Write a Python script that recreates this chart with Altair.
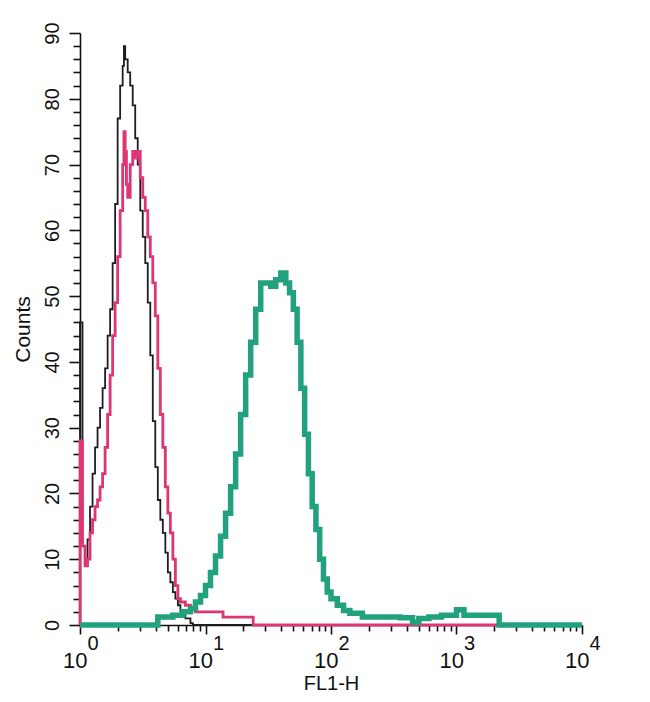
import altair as alt
import pandas as pd

# ---- data (FL1-H channel value, counts) ----
black_x = [1.0, 1.0, 1.047, 1.096, 1.148, 1.202, 1.259, 1.318, 1.380, 1.445, 1.514,
           1.585, 1.660, 1.738, 1.820, 1.905, 1.995, 2.089, 2.188, 2.239, 2.291,
           2.399, 2.512, 2.630, 2.754, 2.884, 3.020, 3.162, 3.311, 3.467, 3.631,
           3.802, 3.981, 4.169, 4.365, 4.571, 4.786, 5.012, 5.248, 5.495, 5.754,
           6.026, 6.310, 6.918, 7.586, 7.943, 10000]
black_y = [0, 46, 12, 10, 13, 18, 23, 27, 30, 33, 36,
           39, 44, 48, 55, 64, 77, 82, 85, 88, 86,
           84, 82, 79, 74, 70, 63, 59, 55, 49, 41,
           31, 24, 19, 16, 14, 11, 8, 6.5, 5, 4,
           3, 2, 1, 0.3, 0, 0]

pink_x = [1.0, 1.0, 1.047, 1.096, 1.148, 1.202, 1.259, 1.318, 1.380, 1.445, 1.514,
          1.585, 1.660, 1.738, 1.820, 1.905, 1.995, 2.089, 2.188, 2.239, 2.291,
          2.344, 2.399, 2.512, 2.630, 2.754, 2.884, 3.020, 3.162, 3.311, 3.467,
          3.631, 3.802, 3.981, 4.169, 4.365, 4.571, 4.786, 5.012, 5.248, 5.495,
          5.754, 6.026, 6.310, 6.918, 7.586, 8.318, 10.0, 13.80, 23.99, 10000]
pink_y = [0, 28, 12, 9, 10, 14, 16, 18, 19, 21, 23,
          27, 32, 38, 44, 49, 56, 63, 70, 75, 72,
          67, 65, 70, 72, 71, 72, 68, 65, 63, 59,
          56, 52, 47, 39, 32, 27, 21, 17, 14, 10,
          6, 4, 3.5, 3, 2.5, 2, 2, 1.2, 0, 0]

teal_x = [1.0, 4.169, 5.495, 6.607, 7.586, 8.318, 9.120, 10.0, 10.96, 12.02,
          13.18, 14.45, 15.85, 17.38, 19.05, 20.89, 22.91, 25.12, 27.54, 30.20,
          33.11, 36.31, 39.81, 43.65, 46.77, 50.12, 53.70, 57.54, 61.66, 66.07,
          70.79, 75.86, 81.28, 87.10, 93.33, 100.0, 112.2, 125.9, 141.3, 177.8,
          251.2, 354.8, 446.7, 501.2, 602.6, 758.6, 1000, 1148, 2188, 10000]
teal_y = [0, 1.2, 1.5, 2, 2.5, 3.5, 4.5, 6, 8, 10.5,
          13.5, 17, 21, 26, 32, 38, 43, 48, 52, 52,
          51.5, 52.5, 53.5, 52, 50.5, 48, 43, 36, 29, 23,
          18, 14.5, 10, 7, 5, 4, 3, 2.2, 1.8, 1.2,
          1.2, 1.1, 0.4, 1.0, 1.2, 1.5, 2.3, 1.5, 0, 0]

decades = [1, 10, 100, 1000, 10000]
decade_exponents = ["0", "1", "2", "3", "4"]
minor_x = [2, 3, 4, 5, 6, 7, 8, 9,
           20, 30, 40, 50, 60, 70, 80, 90,
           200, 300, 400, 500, 600, 700, 800, 900,
           2000, 3000, 4000, 5000, 6000, 7000, 8000, 9000]
y_major = [0, 10, 20, 30, 40, 50, 60, 70, 80, 90]
y_minor = [2, 4, 6, 8, 12, 14, 16, 18, 22, 24, 26, 28, 32, 34, 36, 38,
           42, 44, 46, 48, 52, 54, 56, 58, 62, 64, 66, 68, 72, 74, 76, 78,
           82, 84, 86, 88]


def frame(xs, ys):
    return pd.DataFrame({"x": xs, "y": ys, "i": list(range(len(xs)))})


FONT = "Liberation Sans"
xscale = alt.Scale(type="log", domain=[1, 10000], nice=False)
yscale = alt.Scale(domain=[0, 90], nice=False)

common = dict(grid=False, labelFont=FONT, labelColor="#111111", titleFont=FONT,
              titleColor="#111111", titleFontWeight="normal", labelFlush=False,
              labelOverlap=False, labelBound=False, domainColor="#111111",
              tickColor="#111111", tickWidth=1.6, domainWidth=1.6)

exp_expr = "[" + ",".join("'%s'" % e for e in decade_exponents) + "][indexof([" + \
    ",".join(str(d) for d in decades) + "], datum.value)]"

x_major_axis = alt.Axis(values=decades, orient="bottom", tickSize=9,
                        labelExpr="'10'", labelAlign="right", labelOffset=7,
                        labelBaseline="top", labelPadding=16, labelFontSize=22,
                        title="FL1-H", titleFontSize=20, titlePadding=2, **common)
x_minor_axis = alt.Axis(values=minor_x, orient="bottom", tickSize=6, labels=False,
                        domain=False, title="", **common)
x_exp_axis = alt.Axis(values=decades, orient="bottom", tickSize=0, domain=False,
                      labelExpr=exp_expr, labelAlign="left", labelOffset=7,
                      labelBaseline="top", labelPadding=8, labelFontSize=20,
                      title="", **common)

y_major_axis = alt.Axis(values=y_major, orient="left", tickSize=11, labelAngle=270,
                        labelAlign="center", labelBaseline="bottom", labelPadding=7,
                        labelFontSize=20, title="Counts", titleFontSize=21,
                        titlePadding=9, **common)
y_minor_axis = alt.Axis(values=y_minor, orient="left", tickSize=7, labels=False,
                        domain=False, title="", **common)

black = alt.Chart(frame(black_x, black_y)).mark_line(
    interpolate="step-after", color="#1e1e1e", strokeWidth=1.8
).encode(
    x=alt.X("x:Q", scale=xscale, axis=x_major_axis),
    y=alt.Y("y:Q", scale=yscale, axis=y_major_axis),
    order=alt.Order("i:Q"),
)

pink = alt.Chart(frame(pink_x, pink_y)).mark_line(
    interpolate="step-after", color="#de3674", strokeWidth=2.8
).encode(
    x=alt.X("x:Q", scale=xscale, axis=x_minor_axis),
    y=alt.Y("y:Q", scale=yscale, axis=y_minor_axis),
    order=alt.Order("i:Q"),
)

teal = alt.Chart(frame(teal_x, teal_y)).mark_line(
    interpolate="step-after", color="#22a17f", strokeWidth=5.5
).encode(
    x=alt.X("x:Q", scale=xscale, axis=x_exp_axis),
    y=alt.Y("y:Q", scale=yscale, axis=None),
    order=alt.Order("i:Q"),
)

chart = alt.layer(black, pink, teal).resolve_axis(
    x="independent", y="independent"
).properties(
    width=502, height=592,
    autosize=alt.AutoSizeParams(type="none"),
    padding={"left": 72, "top": 25, "right": 60, "bottom": 69},
    background="white",
).configure_view(strokeWidth=0)

chart.save("out.html", embed_options={"renderer": "svg", "actions": False})
